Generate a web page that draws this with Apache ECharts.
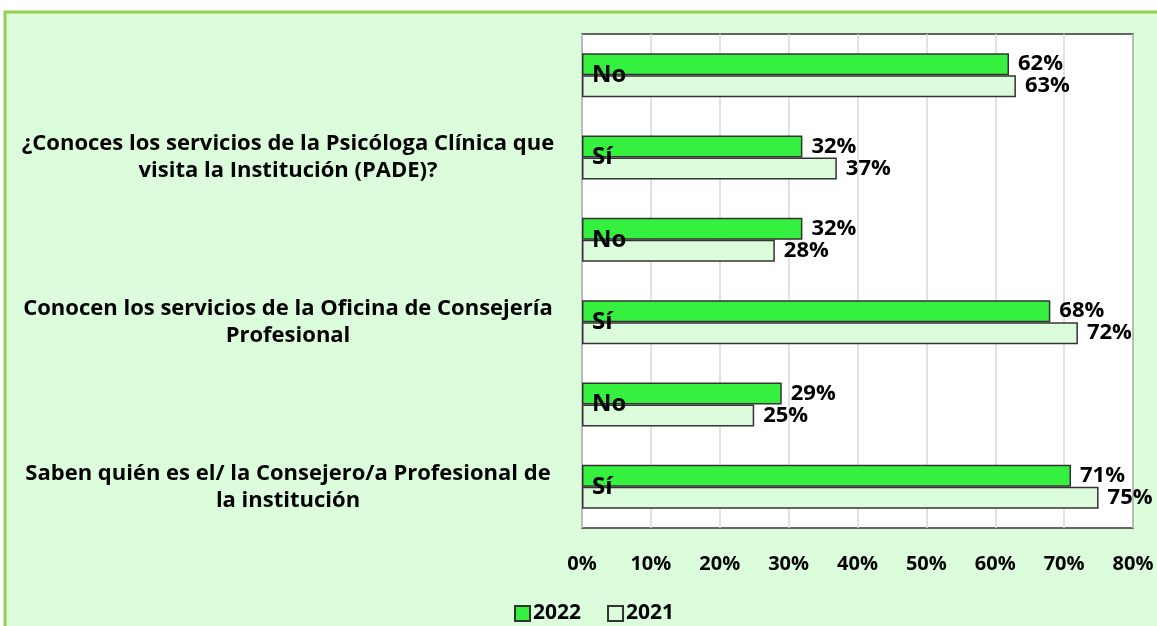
<!DOCTYPE html>
<html>
<head>
<meta charset="utf-8">
<script src="https://cdn.jsdelivr.net/npm/echarts@6/dist/echarts.min.js"></script>
<style>
  html, body { margin: 0; padding: 0; background: #fff; }
  #chart { width: 1157px; height: 626px; }
</style>
</head>
<body>
<div id="chart"></div>
<script>
(function() {
  var rows = ['No', 'Sí', 'No', 'Sí', 'No', 'Sí'];
  var questions = [
    '',
    '¿Conoces los servicios de la Psicóloga Clínica que\nvisita la Institución (PADE)?',
    '',
    'Conocen los servicios de la Oficina de Consejería\nProfesional',
    '',
    'Saben quién es el/ la Consejero/a Profesional de\nla institución'
  ];
  var y2022 = [62, 32, 32, 68, 29, 71];
  var y2021 = [63, 37, 28, 72, 25, 75];
  var ticks = [0, 10, 20, 30, 40, 50, 60, 70, 80];

  var font = '"Open Sans", "Noto Sans", sans-serif';
  var green = '#35f03f';
  var pale = '#dcfddc';
  var edge = '#333333';

  var chart = echarts.init(document.getElementById('chart'), null, { renderer: 'canvas' });
  chart.setOption({
    backgroundColor: '#ffffff',
    textStyle: { fontFamily: font },
    graphic: [
      { type: 'rect', z: -10, shape: { x: 5, y: 12, width: 1160, height: 620 },
        style: { fill: pale, stroke: '#92d050', lineWidth: 3 } }
    ],
    legend: {
      data: ['2022', '2021'],
      left: 509, top: 598,
      itemWidth: 15, itemHeight: 15, itemGap: 26,
      icon: 'rect',
      textStyle: { fontSize: 21, fontWeight: 'bold', color: '#000', fontFamily: font, padding: [0, 0, 0, -2] }
    },
    grid: {
      left: 582, right: 24, top: 34, bottom: 98,
      show: true, backgroundColor: '#ffffff', borderColor: edge, borderWidth: 1.5
    },
    xAxis: {
      type: 'value', min: 0, max: 80, interval: 10,
      axisLine: { show: false }, axisTick: { show: false },
      splitLine: { lineStyle: { color: '#d9d9d9', width: 1.5 } },
      axisLabel: {
        margin: 26, fontSize: 20, fontWeight: 'bold', color: '#000', fontFamily: font,
        formatter: function(v) { return ticks.indexOf(v) >= 0 ? v + '%' : ''; }
      }
    },
    yAxis: [
      {
        type: 'category', data: questions, inverse: true,
        axisLine: { show: false }, axisTick: { show: false },
        axisLabel: {
          margin: 294, align: 'center', fontSize: 22, fontWeight: 'bold', color: '#000',
          lineHeight: 27, fontFamily: font, interval: 0
        }
      },
      {
        type: 'category', data: rows, inverse: true, position: 'left', z: 10,
        axisLine: { show: false }, axisTick: { show: false },
        axisLabel: {
          inside: true, margin: 10, fontSize: 24, fontWeight: 'bold', color: '#000',
          fontFamily: font, interval: 0, padding: [4, 0, 0, 0]
        }
      }
    ],
    series: [
      {
        name: '2022', type: 'bar', data: y2022, barWidth: 22, barGap: '0%',
        itemStyle: { color: green, borderColor: edge, borderWidth: 1.5 },
        label: { show: true, position: 'right', distance: 9, formatter: '{c}%',
          fontSize: 22, fontWeight: 'bold', color: '#000', fontFamily: font }
      },
      {
        name: '2021', type: 'bar', data: y2021, barWidth: 22, barGap: '0%',
        itemStyle: { color: pale, borderColor: edge, borderWidth: 1.5 },
        label: { show: true, position: 'right', distance: 9, formatter: '{c}%',
          fontSize: 22, fontWeight: 'bold', color: '#000', fontFamily: font }
      }
    ]
  });

  window.addEventListener('resize', function() { chart.resize(); });
})();
</script>
</body>
</html>
